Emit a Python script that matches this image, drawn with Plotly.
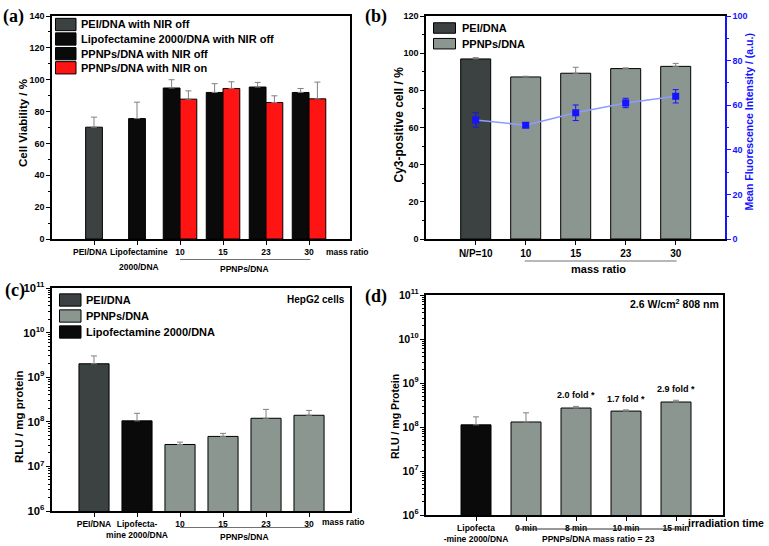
import plotly.graph_objects as go
import numpy as np

W, H = 769, 546

# ---------------- data ----------------
# (a) cell viability
cats_a = ["PEI/DNA", "Lipofectamine<br>2000/DNA", "10", "15", "23", "30"]
pei_a = [70.2]
pei_a_top = [76.5]
lipo_a = [75.6]
lipo_a_top = [85.9]
ppnp_off_a = [94.8, 92.0, 95.4, 92.0]
ppnp_off_a_top = [100.0, 97.5, 98.3, 94.5]
ppnp_on_a = [87.8, 94.5, 85.7, 88.0]
ppnp_on_a_top = [93.0, 98.7, 89.9, 98.5]

# (b) Cy3-positive cells and mean fluorescence
cats_b = ["N/P=10", "10", "15", "23", "30"]
pei_b = [96.9]
pei_b_top = [97.6]
ppnp_b = [87.2, 89.2, 91.7, 92.9]
ppnp_b_top = [87.6, 92.4, 92.1, 94.5]
mfi_b = [53.4, 51.0, 56.6, 61.0, 64.0]
mfi_b_err = [3.3, 1.0, 3.5, 2.1, 3.0]

# (c) luciferase, HepG2
cats_c = ["PEI/DNA", "Lipofecta-<br>mine 2000/DNA", "10", "15", "23", "30"]
pei_c = [2.0e9]
pei_c_top = [3.0e9]
lipo_c = [1.05e8]
lipo_c_top = [1.55e8]
ppnp_c = [3.1e7, 4.7e7, 1.2e8, 1.4e8]
ppnp_c_top = [3.5e7, 5.5e7, 1.9e8, 1.8e8]

# (d) luciferase vs irradiation time
cats_d = ["Lipofecta<br>-mine 2000/DNA", "0 min", "8 min", "10 min", "15 min"]
lipo_d = [1.12e8]
lipo_d_top = [1.7e8]
ppnp_d = [1.3e8, 2.7e8, 2.3e8, 3.7e8]
ppnp_d_top = [2.1e8, 2.95e8, 2.45e8, 4.05e8]
fold_d = ["", "2.0 fold *", "1.7 fold *", "2.9 fold *"]

# ---------------- styling ----------------
FONT = "Liberation Sans"
DARK = "#3b4241"
GREY = "#8b9691"
RED = "#ff1414"
BLUE = "#1414ff"
LBLUE = "#8f9cff"
ERRC = "#808080"


def px(x):
    return x / W


def py(y):
    return 1 - y / H


def up(top, val):
    return [t - v for t, v in zip(top, val)]


def err(top, val, color=ERRC, w=3):
    return dict(type="data", symmetric=False, array=up(top, val),
                arrayminus=[0] * len(val), color=color, thickness=1, width=w)


fig = go.Figure()
line = dict(color="black", width=1)

# ---- (a)
ia = list(range(len(cats_a)))
wa = 0.39
fig.add_trace(go.Bar(x=ia[0:1], y=pei_a, width=wa, marker=dict(color=DARK, line=line),
                     error_y=err(pei_a_top, pei_a), xaxis="x", yaxis="y"))
fig.add_trace(go.Bar(x=ia[1:2], y=lipo_a, width=wa, marker=dict(color="#0a0a0a", line=line),
                     error_y=err(lipo_a_top, lipo_a), xaxis="x", yaxis="y"))
fig.add_trace(go.Bar(x=ia[2:], y=ppnp_off_a, width=wa, offset=-wa, marker=dict(color="#0a0a0a", line=line),
                     error_y=err(ppnp_off_a_top, ppnp_off_a), xaxis="x", yaxis="y"))
fig.add_trace(go.Bar(x=ia[2:], y=ppnp_on_a, width=wa, offset=0, marker=dict(color=RED, line=line),
                     error_y=err(ppnp_on_a_top, ppnp_on_a), xaxis="x", yaxis="y"))

# ---- (b)
ib = list(range(len(cats_b)))
wb = 0.6
fig.add_trace(go.Bar(x=ib[0:1], y=pei_b, width=wb, marker=dict(color=DARK, line=line),
                     error_y=err(pei_b_top, pei_b), xaxis="x2", yaxis="y2"))
fig.add_trace(go.Bar(x=ib[1:], y=ppnp_b, width=wb, marker=dict(color=GREY, line=line),
                     error_y=err(ppnp_b_top, ppnp_b), xaxis="x2", yaxis="y2"))
fig.add_trace(go.Scatter(x=ib, y=mfi_b, mode="lines+markers",
                         line=dict(color=LBLUE, width=1.5),
                         marker=dict(symbol="square", size=7, color=BLUE),
                         error_y=dict(type="data", array=mfi_b_err, color=BLUE, thickness=1, width=3),
                         xaxis="x2", yaxis="y5"))

# ---- (c)
ic = list(range(len(cats_c)))
wc = 0.7
fig.add_trace(go.Bar(x=ic[0:1], y=pei_c, width=wc, marker=dict(color=DARK, line=line),
                     error_y=err(pei_c_top, pei_c), xaxis="x3", yaxis="y3"))
fig.add_trace(go.Bar(x=ic[1:2], y=lipo_c, width=wc, marker=dict(color="#0a0a0a", line=line),
                     error_y=err(lipo_c_top, lipo_c), xaxis="x3", yaxis="y3"))
fig.add_trace(go.Bar(x=ic[2:], y=ppnp_c, width=wc, marker=dict(color=GREY, line=line),
                     error_y=err(ppnp_c_top, ppnp_c), xaxis="x3", yaxis="y3"))

# ---- (d)
idd = list(range(len(cats_d)))
wd = 0.6
fig.add_trace(go.Bar(x=idd[0:1], y=lipo_d, width=wd, marker=dict(color="#0a0a0a", line=line),
                     error_y=err(lipo_d_top, lipo_d), xaxis="x4", yaxis="y4"))
fig.add_trace(go.Bar(x=idd[1:], y=ppnp_d, width=wd, marker=dict(color=GREY, line=line),
                     error_y=err(ppnp_d_top, ppnp_d), xaxis="x4", yaxis="y4"))


def xax(dom, rng, anchor, cats, size=8.5):
    return dict(domain=dom, range=rng, anchor=anchor, tickmode="array", automargin=False,
                tickvals=list(range(len(cats))), ticktext=cats, tickangle=0,
                showline=True, linecolor="black", linewidth=1.5, mirror=True,
                ticks="outside", ticklen=4, tickwidth=1.2, tickcolor="black",
                showgrid=False, zeroline=False,
                tickfont=dict(family=FONT, size=size, color="black", weight="bold"))


def yax_lin(dom, rng, anchor, dtick, mirror=True, color="black", side="left"):
    return dict(domain=dom, range=rng, anchor=anchor, dtick=dtick, side=side, automargin=False,
                showline=True, linecolor=color, linewidth=1.5, mirror=mirror,
                ticks="outside", ticklen=4, tickwidth=1.2, tickcolor=color,
                minor=dict(dtick=dtick / 2, ticks="outside", ticklen=2, tickcolor=color, showgrid=False),
                showgrid=False, zeroline=False,
                tickfont=dict(family=FONT, size=9, color=color, weight="bold"))


def yax_log(dom, anchor, size=9):
    return dict(domain=dom, type="log", range=[6, 11], anchor=anchor, dtick=1, automargin=False,
                exponentformat="power", showexponent="all",
                showline=True, linecolor="black", linewidth=1.5, mirror=True,
                ticks="outside", ticklen=4, tickwidth=1.2, tickcolor="black",
                minor=dict(dtick="D1", ticks="outside", ticklen=2, tickcolor="black", showgrid=False),
                showgrid=False, zeroline=False,
                tickfont=dict(family=FONT, size=size, color="black", weight="bold"))


dom_ax = [px(52), px(350)]
dom_bx = [px(426), px(725)]
dom_cx = [px(52), px(350)]
dom_dx = [px(426), px(723)]
dom_ab_y = [py(239), py(16)]
dom_c_y = [py(511), py(288)]
dom_d_y = [py(515), py(295)]

y5 = yax_lin(dom_ab_y, [0, 100], "x2", 20, mirror=False, color=BLUE, side="right")
y5["overlaying"] = "y2"

xa = xax(dom_ax, [-0.977, 5.953], "y", cats_a)
xa["ticktext"] = [c if "/" not in c else "" for c in cats_a]

fig.update_layout(
    width=W, height=H, margin=dict(l=0, r=0, t=0, b=0, autoexpand=False),
    paper_bgcolor="white", plot_bgcolor="white",
    barmode="overlay", showlegend=False,
    font=dict(family=FONT, color="black"),
    xaxis=xa,
    yaxis=yax_lin(dom_ab_y, [0, 140], "x", 20),
    xaxis2=xax(dom_bx, [-0.994, 4.986], "y2", cats_b, size=10),
    yaxis2=yax_lin(dom_ab_y, [0, 120], "x2", 20, mirror=False),
    yaxis5=y5,
    xaxis3=xax(dom_cx, [-0.977, 5.953], "y3", cats_c),
    yaxis3=yax_log(dom_c_y, "x3"),
    xaxis4=xax(dom_dx, [-1.0, 4.94], "y4", cats_d),
    yaxis4=yax_log(dom_d_y, "x4", size=8.5),
)

shapes = []
ann = []


def legend(items, x0, x1, rows, h, tx, size=11):
    for (label, color), yc in zip(items, rows):
        shapes.append(dict(type="rect", xref="paper", yref="paper",
                           x0=px(x0), x1=px(x1), y0=py(yc + h / 2), y1=py(yc - h / 2),
                           fillcolor=color, line=dict(color="black", width=1)))
        ann.append(dict(text=label, xref="paper", yref="paper", x=px(tx), y=py(yc),
                        xanchor="left", yanchor="middle", showarrow=False,
                        font=dict(family=FONT, size=size, color="black", weight="bold")))


legend([("PEI/DNA with NIR off", DARK), ("Lipofectamine 2000/DNA with NIR off", "#0a0a0a"),
        ("PPNPs/DNA with NIR off", "#0a0a0a"), ("PPNPs/DNA with NIR on", RED)],
       55.5, 76, [24.5, 39, 53.7, 67.8], 12.3, 78.5)
legend([("PEI/DNA", DARK), ("PPNPs/DNA", GREY)], 433.5, 455.5, [28, 43.7], 10.5, 459.5)
legend([("PEI/DNA", DARK), ("PPNPs/DNA", GREY), ("Lipofectamine 2000/DNA", "#0a0a0a")],
       59.5, 81, [300, 316, 332], 12.3, 83.5)


def note(text, x, y, size=9, xanchor="center", xref="paper", color="black", yref="paper", angle=0):
    ann.append(dict(text=text, xref=xref, yref=yref, x=x, y=y, xanchor=xanchor, yanchor="middle",
                    showarrow=False, textangle=angle,
                    font=dict(family=FONT, size=size, color=color, weight="bold")))


def uline(xref, x0, x1, y, color="#707070"):
    shapes.append(dict(type="line", xref=xref, yref="paper", x0=x0, x1=x1, y0=py(y), y1=py(y),
                       line=dict(color=color, width=1)))


# axis titles
note("Cell Viability / %", px(23.5), py(123.5), size=11.5, angle=-90)
note("Cy3-positive cell / %", px(399), py(124.5), size=12, angle=-90)
note("Mean Fluorescence Intensity / (a.u.)", px(749), py(122.5), size=10.5, color=BLUE, angle=-90)
note("RLU / mg protein", px(19), py(417), size=11.5, angle=-90)
note("RLU / mg Protein", px(394.5), py(416.5), size=10.5, angle=-90)

# (a) text categories placed slightly apart, as in the original
note(cats_a[0], -0.1, py(252), size=8.5, xref="x")
for k, part in enumerate(cats_a[1].split("<br>")):
    note(part, 1.05, py(252 + 15 * k), size=8.5, xref="x")
uline("x", 2, 5.03, 259.5)
note("PPNPs/DNA", 3.5, py(268.5), size=8.5, xref="x")
note("mass ratio", px(347), py(252), size=8.5)
# (b)
uline("x2", 0.98, 4.02, 261)
note("mass ratio", 2.45, py(268.5), size=11, xref="x2")
# (c)
uline("x3", 2, 5.03, 527.5)
note("PPNPs/DNA", 3.5, py(536.5), size=8.5, xref="x3")
note("mass ratio", px(343), py(521.5), size=8.5)
note("HepG2 cells", px(347), py(299), size=10, xanchor="right")
# (d)
uline("x4", 0.81, 4.16, 529, color="#303030")
note("PPNPs/DNA mass ratio = 23", 2.45, py(538.5), size=8.5, xref="x4")
note("irradiation time", px(766), py(523), size=10.5, xanchor="right")
note("2.6 W/cm<sup>2</sup> 808 nm", px(721), py(303), size=10.5, xanchor="right")
for i, (lbl, top) in enumerate(zip(fold_d, ppnp_d_top)):
    if lbl:
        ann.append(dict(text=lbl, xref="x4", yref="y4", x=i + 1, y=float(np.log10(top)),
                        xanchor="center", yanchor="bottom", yshift=4, showarrow=False,
                        font=dict(family=FONT, size=9, color="black", weight="bold")))

# panel labels
for lbl, x, y in [("(a)", 13, 16), ("(b)", 376, 16), ("(c)", 15, 290), ("(d)", 376, 296)]:
    ann.append(dict(text=lbl, xref="paper", yref="paper", x=px(x), y=py(y), xanchor="center",
                    yanchor="middle", showarrow=False,
                    font=dict(family="Liberation Serif", size=18, color="black", weight="bold")))

fig.update_layout(shapes=shapes, annotations=ann)
fig.write_html("out.html", config={"displayModeBar": False},
               post_script="document.body.style.margin='0px';")
